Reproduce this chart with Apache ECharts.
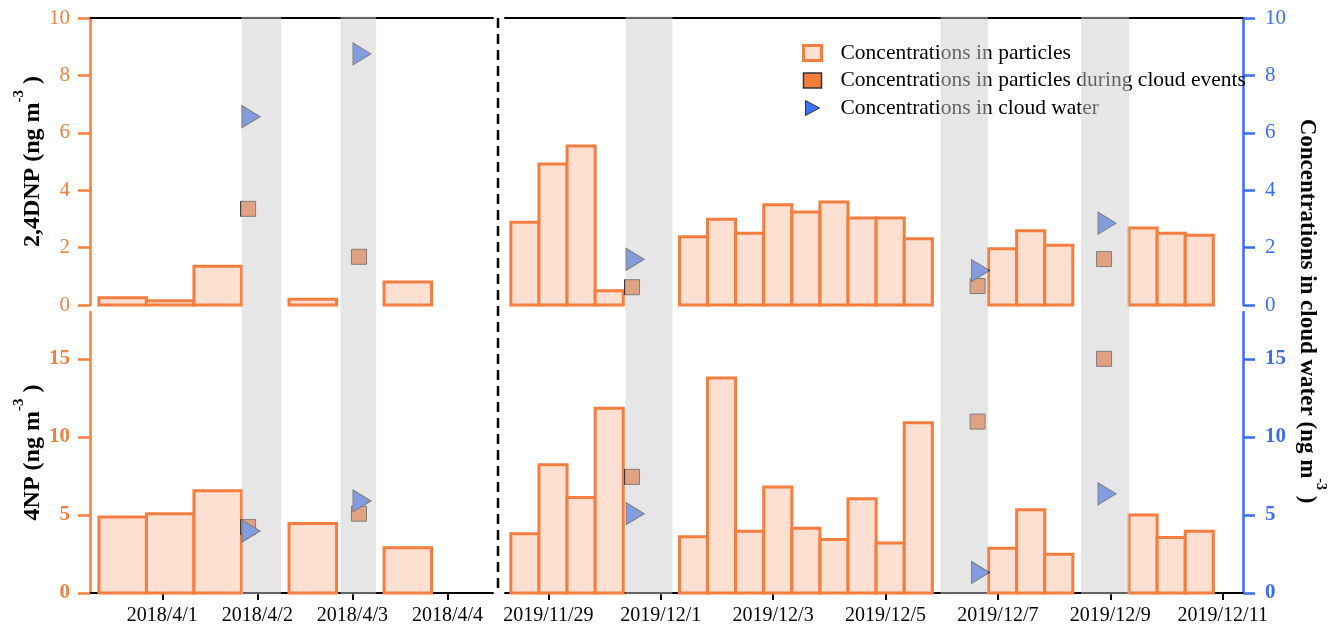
<!DOCTYPE html>
<html>
<head>
<meta charset="utf-8">
<script src="https://cdn.jsdelivr.net/npm/echarts@6/dist/echarts.min.js"></script>
<style>
  html, body { margin: 0; padding: 0; background: #fff; }
  #chart { width: 1336px; height: 626px; }
</style>
</head>
<body>
<div id="chart"></div>
<script>
// ---- Particle samples (12-h filters), start time of each sample ----
const particleStart2018 = ['2018-03-31 08:00', '2018-03-31 20:00', '2018-04-01 08:00', '2018-04-02 08:00', '2018-04-03 08:00'];
const dnpParticles2018 = [0.25, 0.15, 1.35, 0.2, 0.8];
const npParticles2018 = [4.87, 5.08, 6.55, 4.45, 2.9];

const particleStart2019 = [
  '2019-11-28 08:00', '2019-11-28 20:00', '2019-11-29 08:00', '2019-11-29 20:00',
  '2019-12-01 08:00', '2019-12-01 20:00', '2019-12-02 08:00', '2019-12-02 20:00', '2019-12-03 08:00',
  '2019-12-03 20:00', '2019-12-04 08:00', '2019-12-04 20:00', '2019-12-05 08:00',
  '2019-12-06 20:00', '2019-12-07 08:00', '2019-12-07 20:00',
  '2019-12-09 08:00', '2019-12-09 20:00', '2019-12-10 08:00'
];
const dnpParticles2019 = [2.88, 4.91, 5.54, 0.5, 2.38, 2.99, 2.5, 3.49, 3.24, 3.59, 3.03, 3.03, 2.31, 1.96, 2.59, 2.08, 2.68, 2.5, 2.43];
const npParticles2019 = [3.8, 8.22, 6.11, 11.83, 3.61, 13.78, 3.95, 6.79, 4.14, 3.42, 6.04, 3.21, 10.9, 2.86, 5.34, 2.48, 5.0, 3.55, 3.95];

// ---- Cloud events (shaded periods) ----
const cloudEvents2018 = [['2018-04-01 20:00', '2018-04-02 06:00'], ['2018-04-02 21:00', '2018-04-03 06:00']];
const cloudEvents2019 = [['2019-11-30 09:00', '2019-12-01 05:00'], ['2019-12-05 23:30', '2019-12-06 19:45'], ['2019-12-08 11:30', '2019-12-09 08:00']];

// ---- Particles collected during cloud events ----
const cloudParticleTime2018 = ['2018-04-01 21:40', '2018-04-03 01:40'];
const cloudParticleDNP2018 = [3.35, 1.68];
const cloudParticleNP2018 = [4.22, 5.08];
const cloudParticleTime2019 = ['2019-11-30 11:45', '2019-12-06 15:20', '2019-12-08 21:20'];
const cloudParticleDNP2019 = [0.62, 0.66, 1.6];
const cloudParticleNP2019 = [7.44, 10.98, 15.0];

// ---- Cloud water ----
const cloudWaterTime2018 = ['2018-04-01 22:25', '2018-04-03 02:25'];
const cloudWaterDNP2018 = [6.56, 8.75];
const cloudWaterNP2018 = [3.97, 5.9];
const cloudWaterTime2019 = ['2019-11-30 13:05', '2019-12-06 16:35', '2019-12-08 22:35'];
const cloudWaterDNP2019 = [1.59, 1.2, 2.85];
const cloudWaterNP2019 = [5.08, 1.32, 6.35];

// ---- Axis ranges and ticks ----
const range2018 = ['2018-03-31 05:45', '2018-04-04 11:30'];
const range2019 = ['2019-11-28 05:30', '2019-12-11 08:40'];
const tickDates2018 = ['2018-04-01', '2018-04-02', '2018-04-03', '2018-04-04'];
const tickDates2019 = ['2019-11-29', '2019-12-01', '2019-12-03', '2019-12-05', '2019-12-07', '2019-12-09', '2019-12-11'];
const dnpTicks = [0, 2, 4, 6, 8, 10];
const npTicks = [0, 5, 10, 15];
const dnpMax = 10;
const npMax = 18;

// ---- Helpers ----
const SAMPLE_HOURS = 12;
const ts = s => new Date(s.length > 10 ? s.replace(' ', 'T') : s + 'T00:00').getTime();
const barData = (starts, vals) => starts.map((s, i) => [ts(s), ts(s) + SAMPLE_HOURS * 3600e3, vals[i]]);
const pointData = (times, vals) => times.map((s, i) => [ts(s), vals[i]]);
const bandData = ev => ev.map(([a, b]) => [ts(a), ts(b)]);
const dateLabel = v => { const d = new Date(v); return d.getFullYear() + '/' + (d.getMonth() + 1) + '/' + d.getDate(); };

const FONT = "'Liberation Serif', 'Times New Roman', serif";
const ORANGE = '#f5803e';
const BLUE = '#3b6cf5';
const BAR_FILL = '#fde0d1';
const BAR_EDGE = '#f47d3f';
const SQUARE_FILL = '#f47b3c';
const TRI_FILL = '#3d6ff2';
const BAND_FILL = 'rgba(204,204,204,0.49)';
const PANEL_GAP = 7;

const NAME_P = 'Concentrations in particles';
const NAME_C = 'Concentrations in particles during cloud events';
const NAME_W = 'Concentrations in cloud water';

// Bold axis titles with a raised "-3" exponent
const makeNameRich = size => ({
  m: { fontFamily: FONT, fontSize: size, fontWeight: 'bold', color: '#000' },
  s: { fontFamily: FONT, fontSize: Math.round(size * 0.63), fontWeight: 'bold', color: '#000',
       padding: [0, 0, Math.round(size * 1.17), 0] }
});

function barsRender(params, api) {
  const a = api.coord([api.value(0), api.value(2)]);
  const b = api.coord([api.value(1), 0]);
  return {
    type: 'rect',
    shape: { x: a[0], y: a[1], width: b[0] - a[0], height: b[1] - a[1] },
    style: { fill: BAR_FILL, stroke: BAR_EDGE, lineWidth: 3 }
  };
}
// Shaded cloud-event column; the upper panel's column runs on through the gap
// so each event reads as one continuous band across both panels.
function bandRender(isTop) {
  return function (params, api) {
    const cs = params.coordSys;
    const a = api.coord([api.value(0), 0]);
    const b = api.coord([api.value(1), 0]);
    const y0 = isTop ? cs.y - 1.5 : cs.y;
    const y1 = isTop ? cs.y + cs.height + PANEL_GAP : cs.y + cs.height + 1.5;
    return {
      type: 'rect',
      shape: { x: a[0], y: y0, width: b[0] - a[0], height: y1 - y0 },
      style: { fill: BAND_FILL }
    };
  };
}

function panelSeries(gi, bars, sqs, tris, bands, isTop) {
  return [
    { type: 'custom', name: NAME_P, xAxisIndex: gi, yAxisIndex: gi, z: 3, silent: true,
      renderItem: barsRender, encode: { x: [0, 1], y: 2 }, data: bars },
    { type: 'scatter', name: NAME_C, xAxisIndex: gi, yAxisIndex: gi, z: 4, silent: true,
      symbol: 'rect', symbolSize: 15,
      itemStyle: { color: SQUARE_FILL, borderColor: '#333', borderWidth: 1, opacity: 1 }, data: sqs },
    { type: 'scatter', name: NAME_W, xAxisIndex: gi, yAxisIndex: gi, z: 4, silent: true,
      symbol: 'triangle', symbolRotate: -90, symbolSize: [22, 18],
      itemStyle: { color: TRI_FILL, borderColor: '#333', borderWidth: 1, opacity: 1 }, data: tris },
    { type: 'custom', xAxisIndex: gi, yAxisIndex: gi, z: 10, silent: true, clip: false,
      renderItem: bandRender(isTop), encode: { x: [0, 1] }, data: bands }
  ];
}

function topXAxis(gi, range) {
  return { type: 'value', gridIndex: gi, position: 'top', min: ts(range[0]), max: ts(range[1]),
    axisLine: { show: true, onZero: false, lineStyle: { color: '#000', width: 2 } },
    axisTick: { show: false }, axisLabel: { show: false }, splitLine: { show: false } };
}
function bottomXAxis(gi, range, ticks) {
  const vals = ticks.map(ts);
  return { type: 'value', gridIndex: gi, position: 'bottom', min: ts(range[0]), max: ts(range[1]),
    axisLine: { show: true, onZero: false, lineStyle: { color: '#000', width: 2 } },
    axisTick: { show: true, customValues: vals, length: 7, lineStyle: { color: '#000', width: 2 } },
    axisLabel: { show: true, customValues: vals, formatter: dateLabel, color: '#000',
      fontFamily: FONT, fontSize: 20, margin: 13 },
    splitLine: { show: false } };
}
function yAxisDef(gi, pos, color, max, ticks, bold, name) {
  const ax = { type: 'value', gridIndex: gi, position: pos, min: 0, max: max,
    axisLine: { show: true, onZero: false, lineStyle: { color: color, width: 2.5 } },
    axisTick: { show: true, customValues: ticks, length: 12, lineStyle: { color: color, width: 2.5 } },
    axisLabel: { show: true, customValues: ticks, color: color, fontFamily: FONT, fontSize: 21,
      fontWeight: bold ? 'bold' : 'normal', margin: pos === 'left' ? 20 : 22 },
    splitLine: { show: false } };
  if (name) {
    ax.name = name;
    ax.nameLocation = 'middle';
    ax.nameRotate = 90;
    ax.nameGap = 35;
    ax.nameTextStyle = { rich: makeNameRich(24) };
  }
  return ax;
}

const chart = echarts.init(document.getElementById('chart'), null, { renderer: 'canvas' });
chart.setOption({
  animation: false,
  backgroundColor: '#fff',
  grid: [
    { left: 90, width: 403, top: 18, height: 287, outerBoundsMode: 'none' },
    { left: 505, width: 738, top: 18, height: 287, outerBoundsMode: 'none' },
    { left: 90, width: 403, top: 312, height: 281, outerBoundsMode: 'none' },
    { left: 505, width: 738, top: 312, height: 281, outerBoundsMode: 'none' }
  ],
  xAxis: [
    topXAxis(0, range2018),
    topXAxis(1, range2019),
    bottomXAxis(2, range2018, tickDates2018),
    bottomXAxis(3, range2019, tickDates2019)
  ],
  yAxis: [
    yAxisDef(0, 'left', ORANGE, dnpMax, dnpTicks, false, '{m|2,4DNP (ng m}{s|-3}{m| )}'),
    yAxisDef(1, 'right', BLUE, dnpMax, dnpTicks, false, null),
    yAxisDef(2, 'left', ORANGE, npMax, npTicks, true, '{m|4NP (ng m}{s|-3}{m| )}'),
    yAxisDef(3, 'right', BLUE, npMax, npTicks, true, null)
  ],
  legend: {
    orient: 'vertical', left: 802, top: 42, padding: 0, itemGap: 5.5, itemWidth: 18, itemHeight: 15,
    selectedMode: false,
    textStyle: { fontFamily: FONT, fontSize: 21.5, lineHeight: 21.5, color: '#000', padding: [0, 0, 0, 14] },
    data: [
      { name: NAME_P, icon: 'rect', itemStyle: { color: BAR_FILL, borderColor: BAR_EDGE, borderWidth: 3 } },
      { name: NAME_C, icon: 'rect', itemStyle: { color: SQUARE_FILL, borderColor: '#333', borderWidth: 1.5 } },
      { name: NAME_W, icon: 'path://M0,0L15,8L0,16Z', itemStyle: { color: TRI_FILL, borderColor: '#333', borderWidth: 1 } }
    ]
  },
  graphic: [
    { type: 'line', z: 5, shape: { x1: 498, y1: 18, x2: 498, y2: 594 },
      style: { stroke: '#000', lineWidth: 2.5, lineDash: [10, 6] } },
    { type: 'text', z: 5, x: 1307, y: 311, rotation: -Math.PI / 2,
      style: { text: '{m|Concentrations in cloud water (ng m}{s|-3}{m| )}', rich: makeNameRich(23),
        align: 'center', verticalAlign: 'middle' } }
  ],
  series: [].concat(
    panelSeries(0, barData(particleStart2018, dnpParticles2018), pointData(cloudParticleTime2018, cloudParticleDNP2018),
      pointData(cloudWaterTime2018, cloudWaterDNP2018), bandData(cloudEvents2018), true),
    panelSeries(1, barData(particleStart2019, dnpParticles2019), pointData(cloudParticleTime2019, cloudParticleDNP2019),
      pointData(cloudWaterTime2019, cloudWaterDNP2019), bandData(cloudEvents2019), true),
    panelSeries(2, barData(particleStart2018, npParticles2018), pointData(cloudParticleTime2018, cloudParticleNP2018),
      pointData(cloudWaterTime2018, cloudWaterNP2018), bandData(cloudEvents2018), false),
    panelSeries(3, barData(particleStart2019, npParticles2019), pointData(cloudParticleTime2019, cloudParticleNP2019),
      pointData(cloudWaterTime2019, cloudWaterNP2019), bandData(cloudEvents2019), false)
  )
});
</script>
</body>
</html>
